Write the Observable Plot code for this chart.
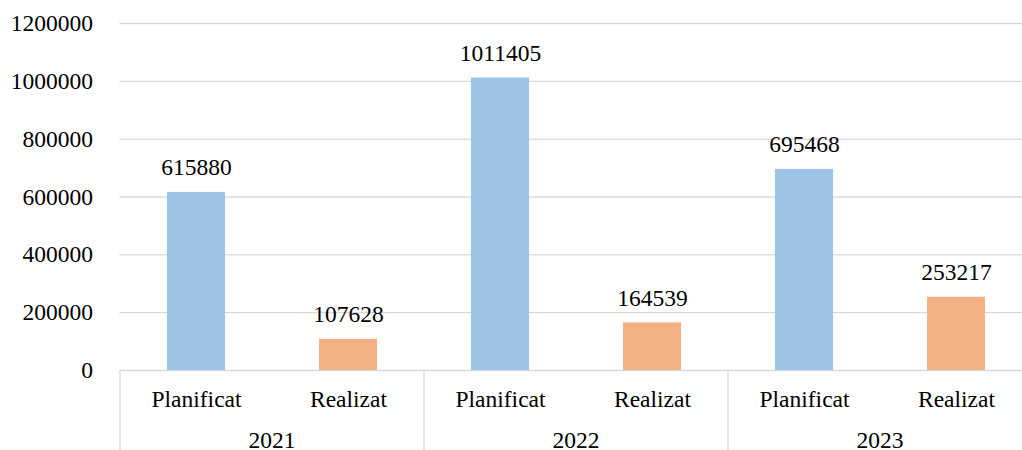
<!DOCTYPE html>
<html><head><meta charset="utf-8">
<script src="https://cdn.jsdelivr.net/npm/d3@7"></script>
<script src="https://cdn.jsdelivr.net/npm/@observablehq/plot@0.6"></script>
<style>html,body{margin:0;padding:0;background:#fff} svg{display:block} svg text{font-family:"Liberation Serif","Times New Roman","DejaVu Serif",serif !important}</style>
</head><body><div id="chart"></div>
<script>
const years = ["2021", "2022", "2023"];
const types = ["Planificat", "Realizat"];
const planificat = [615880, 1011405, 695468];
const realizat = [107628, 164539, 253217];
const yTicks = [0, 200000, 400000, 600000, 800000, 1000000, 1200000];
const typeColors = ["#9DC3E6", "#F4B183"];

const data = years.flatMap((yr, i) => [
  {year: yr, type: types[0], value: planificat[i]},
  {year: yr, type: types[1], value: realizat[i]}
]);
data.forEach(d => d.key = d.year + "|" + d.type);
const keys = data.map(d => d.key);

const font = "Liberation Serif, Times New Roman, DejaVu Serif, serif";
const fs = 23.5;
const W = 1022, H = 450, mTop = 23, mBottom = 80, mLeft = 119.4;

const chart = Plot.plot({
  width: W, height: H,
  marginTop: mTop, marginBottom: mBottom, marginLeft: mLeft, marginRight: 0,
  style: {fontFamily: font, fontSize: fs + "px", color: "#000", background: "#fff", overflow: "visible"},
  x: {type: "band", domain: keys, range: [mLeft, 1032.6], padding: 0, axis: null},
  y: {domain: [0, 1200000], axis: null},
  color: {domain: types, range: typeColors},
  marks: [
    Plot.ruleY(yTicks, {stroke: "#D9D9D9", strokeWidth: 1.3}),
    Plot.axisY({ticks: yTicks, tickSize: 0, tickPadding: 27, tickFormat: d3.format("d"), label: null, fontSize: fs, fill: "#000"}),
    Plot.barY(data, {x: "key", y: "value", fill: "type", insetLeft: 47, insetRight: 47}),
    Plot.text(data, {x: "key", y: "value", text: d => String(d.value), dy: -17, lineAnchor: "bottom", fontSize: fs, fill: "#000"}),
    Plot.text(data, {x: "key", text: "type", frameAnchor: "bottom", lineAnchor: "bottom", dy: 36, fontSize: fs, fill: "#000"})
  ]
});
document.getElementById("chart").appendChild(chart);

// year group separators and year labels, positioned from the Plot scales
const xs = chart.scale("x");
const ys = chart.scale("y");
const bw = xs.bandwidth;
const y0 = ys.apply(0);
const svg = d3.select(chart);
const edges = years.map(yr => xs.apply(yr + "|" + types[0])).concat([xs.apply(keys[keys.length - 1]) + bw]);
svg.append("g").selectAll("line").data(edges).join("line")
  .attr("x1", d => d).attr("x2", d => d)
  .attr("y1", y0).attr("y2", H)
  .attr("stroke", "#D9D9D9").attr("stroke-width", 1.3);
svg.append("g").selectAll("text").data(years).join("text")
  .attr("x", yr => xs.apply(yr + "|" + types[1]))
  .attr("y", H - 2.5)
  .attr("text-anchor", "middle")
  .attr("font-family", font).attr("font-size", fs).attr("fill", "#000")
  .text(yr => yr);
</script>
</body></html>
